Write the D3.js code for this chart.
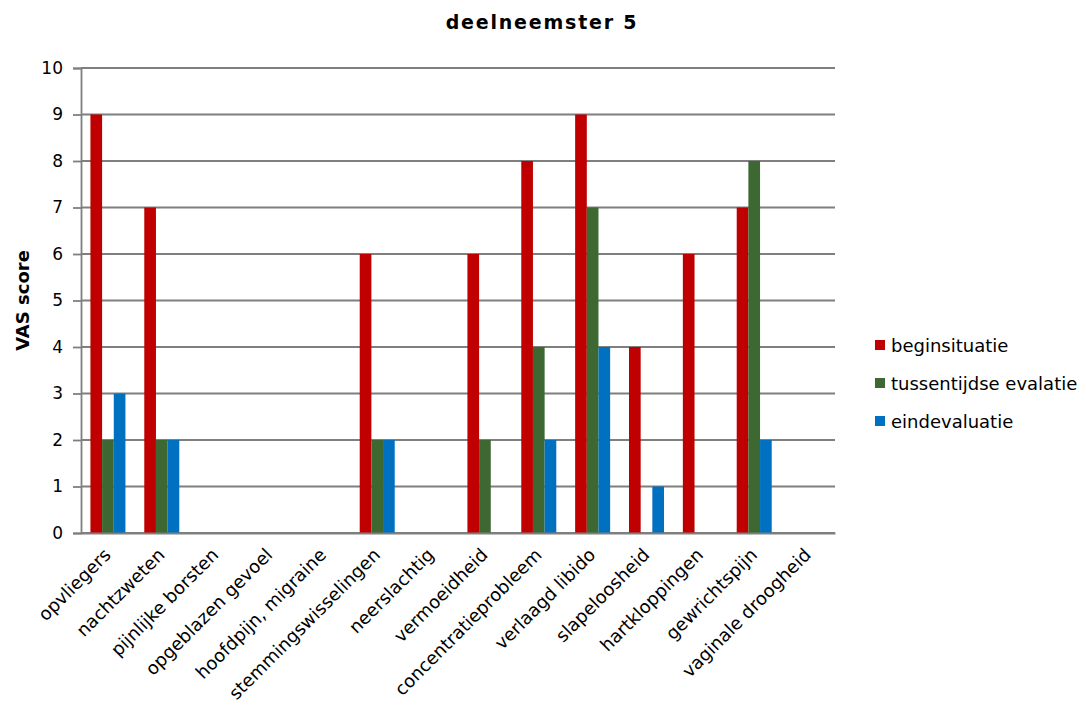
<!DOCTYPE html>
<html>
<head>
<meta charset="utf-8">
<script src="https://cdn.jsdelivr.net/npm/d3@7"></script>
<style>
  html, body { margin: 0; padding: 0; background: #fff; }
  svg { display: block; font-family: "DejaVu Sans", Verdana, sans-serif; }
</style>
</head>
<body>
<svg id="chart" width="1086" height="706"></svg>
<script>
// Klachten en VAS-scores per meetmoment
const categories = [
  "opvliegers", "nachtzweten", "pijnlijke borsten", "opgeblazen gevoel",
  "hoofdpijn, migraine", "stemmingswisselingen", "neerslachtig", "vermoeidheid",
  "concentratieprobleem", "verlaagd libido", "slapeloosheid", "hartkloppingen",
  "gewrichtspijn", "vaginale droogheid"
];
const seriesNames = ["beginsituatie", "tussentijdse evalatie", "eindevaluatie"];
const beginsituatie = [9, 7, 0, 0, 0, 6, 0, 6, 8, 9, 4, 6, 7, 0];
const tussentijds   = [2, 2, 0, 0, 0, 2, 0, 2, 4, 7, 0, 0, 8, 0];
const eindevaluatie = [3, 2, 0, 0, 0, 2, 0, 0, 2, 4, 1, 0, 2, 0];
const yTicks = [0, 1, 2, 3, 4, 5, 6, 7, 8, 9, 10];
const colors = ["#C00000", "#3D6832", "#0070C0"];

const seriesValues = [beginsituatie, tussentijds, eindevaluatie];
const FONT = "'DejaVu Sans', Verdana, sans-serif";

const svg = d3.select("#chart");
const margin = { left: 81, right: 251, top: 68, bottom: 173 };
const width = 1086 - margin.left - margin.right;
const height = 706 - margin.top - margin.bottom;

const g = svg.append("g").attr("transform", `translate(${margin.left},${margin.top})`);

const x0 = d3.scaleBand().domain(categories).range([0, width]).paddingInner(0.35).paddingOuter(0.175);
const x1 = d3.scaleBand().domain(d3.range(seriesNames.length)).range([0, x0.bandwidth()]);
const y = d3.scaleLinear().domain([0, 10]).range([height, 0]);

// Horizontale rasterlijnen
g.append("g")
  .selectAll("line")
  .data(yTicks)
  .join("line")
  .attr("x1", 0).attr("x2", width)
  .attr("y1", d => y(d)).attr("y2", d => y(d))
  .attr("stroke", "#7f7f7f").attr("stroke-width", 1.8);

// Staven
const groups = g.append("g")
  .selectAll("g")
  .data(categories)
  .join("g")
  .attr("transform", d => `translate(${x0(d)},0)`);

groups.selectAll("rect")
  .data((d, i) => seriesValues.map((s, k) => ({ k, v: s[i] })))
  .join("rect")
  .attr("x", d => x1(d.k))
  .attr("width", x1.bandwidth())
  .attr("y", d => y(d.v))
  .attr("height", d => y(0) - y(d.v))
  .attr("fill", d => colors[d.k]);

// Y-as
const yAxis = g.append("g")
  .call(d3.axisLeft(y).tickValues(yTicks).tickSize(8).tickPadding(10).tickFormat(d3.format("d")));
yAxis.select(".domain").attr("stroke", "#7f7f7f").attr("stroke-width", 1.8);
yAxis.selectAll(".tick line").attr("stroke", "#7f7f7f").attr("stroke-width", 1.8);
yAxis.selectAll("text").attr("font-size", 17).attr("fill", "#000").style("font-family", FONT);

// X-as
const xAxis = g.append("g")
  .attr("transform", `translate(0,${height})`)
  .call(d3.axisBottom(x0).tickSize(0).tickPadding(0));
xAxis.select(".domain").attr("stroke", "#7f7f7f").attr("stroke-width", 1.8);
xAxis.selectAll("text")
  .attr("font-size", 18).attr("fill", "#000")
  .style("font-family", FONT)
  .attr("text-anchor", "end")
  .attr("dy", 0)
  .attr("transform", "translate(4,23) rotate(-45)");

// Titel
svg.append("text")
  .attr("x", 542).attr("y", 29)
  .attr("text-anchor", "middle")
  .attr("font-size", 19).attr("font-weight", "bold")
  .style("letter-spacing", "1.8px")
  .text("deelneemster 5");

// Y-astitel
svg.append("text")
  .attr("transform", `translate(29,${margin.top + height / 2}) rotate(-90)`)
  .attr("text-anchor", "middle")
  .attr("font-size", 18).attr("font-weight", "bold")
  .text("VAS score");

// Legenda
const legend = svg.append("g").attr("transform", "translate(875,345)");
const items = legend.selectAll("g")
  .data(seriesNames)
  .join("g")
  .attr("transform", (d, i) => `translate(0,${i * 38})`);
items.append("rect")
  .attr("x", 0).attr("y", -5).attr("width", 10).attr("height", 10)
  .attr("fill", (d, i) => colors[i]);
items.append("text")
  .attr("x", 16).attr("y", 6.5)
  .attr("font-size", 18)
  .text(d => d);
</script>
</body>
</html>
